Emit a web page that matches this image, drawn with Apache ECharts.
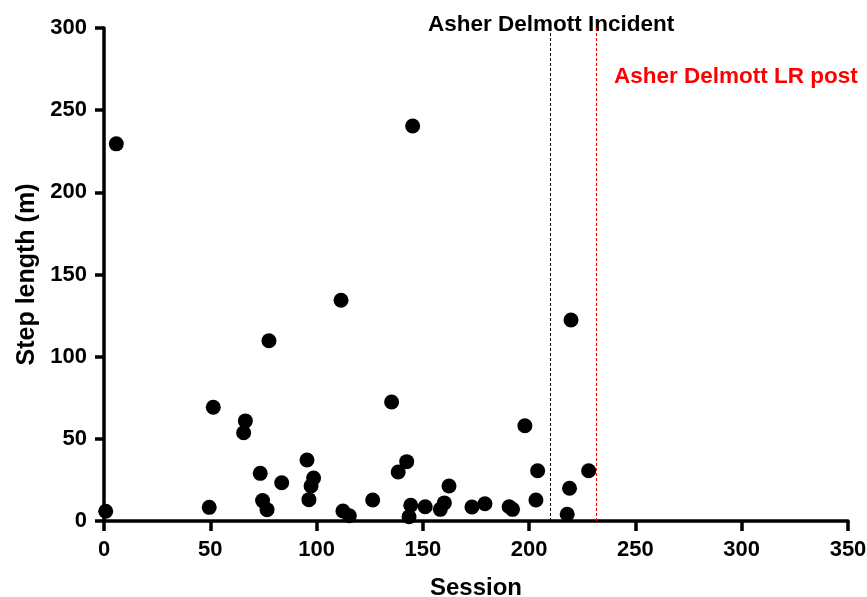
<!DOCTYPE html>
<html>
<head>
<meta charset="utf-8">
<script src="https://cdn.jsdelivr.net/npm/echarts@6/dist/echarts.min.js"></script>
<style>
  html, body { margin: 0; padding: 0; background: #fff; }
  #main { width: 867px; height: 597px; }
</style>
</head>
<body>
<div id="main"></div>
<script>
// session number of each recorded step
var sessions = [0.8, 5.8, 49.5, 51.4, 65.7, 66.5, 73.5, 74.6, 76.7, 77.6,
    83.6, 95.5, 96.4, 97.4, 98.6, 111.5, 112.4, 115.4, 126.4, 135.3,
    138.4, 142.4, 143.5, 144.3, 145.2, 151.1, 158.2, 160.1, 162.3, 173.1,
    179.2, 190.6, 192.2, 198, 203.2, 204, 217.9, 219, 219.7, 228];
// step length (m)
var stepLengths = [5.9, 229.5, 8.3, 69.2, 53.7, 60.9, 29.0, 12.4, 6.9, 109.7,
    23.3, 37.1, 13.0, 21.3, 26.2, 134.3, 6.1, 3.2, 12.8, 72.4,
    29.8, 36.1, 2.6, 9.6, 240.4, 8.7, 7.1, 11, 21.3, 8.5,
    10.5, 8.7, 7.1, 58, 12.8, 30.6, 4.1, 19.9, 122.3, 30.6];
// event markers
var incidentSession = 210;
var lrPostSession = 231.7;

var pts = [];
for (var i = 0; i < sessions.length; i++) {
    pts.push([sessions[i], stepLengths[i]]);
}

var myChart = echarts.init(document.getElementById('main'));
var boldFont = 'Liberation Sans';

var option = {
    animation: false,
    backgroundColor: '#fff',
    grid: { left: 104, right: 19, top: 28, bottom: 76, outerBoundsMode: 'none' },
    xAxis: {
        type: 'value',
        min: 0, max: 350, interval: 50,
        name: 'Session',
        nameLocation: 'middle',
        nameGap: 55,
        nameTextStyle: { color: '#000', fontSize: 24, fontWeight: 'bold', fontFamily: boldFont },
        axisLine: { lineStyle: { color: '#000', width: 3.5 } },
        axisTick: { length: 10, lineStyle: { color: '#000', width: 3.5 } },
        axisLabel: { color: '#000', fontSize: 22, fontWeight: 'bold', fontFamily: boldFont, margin: 18 },
        splitLine: { show: false }
    },
    yAxis: {
        type: 'value',
        min: 0, max: 300, interval: 50,
        name: 'Step length (m)',
        nameLocation: 'middle',
        nameGap: 64,
        nameTextStyle: { color: '#000', fontSize: 25, fontWeight: 'bold', fontFamily: boldFont },
        axisLine: { show: true, lineStyle: { color: '#000', width: 3.5 } },
        axisTick: { show: true, length: 9, lineStyle: { color: '#000', width: 3.5 } },
        axisLabel: { color: '#000', fontSize: 22, fontWeight: 'bold', fontFamily: boldFont, margin: 17 },
        splitLine: { show: false }
    },
    series: [{
        type: 'scatter',
        data: pts,
        symbol: 'circle',
        symbolSize: 15,
        itemStyle: { color: '#000', opacity: 1 },
        markLine: {
            silent: true,
            symbol: 'none',
            label: { show: false },
            data: [
                { xAxis: incidentSession, lineStyle: { color: '#000', type: [3, 2], width: 1 } },
                { xAxis: lrPostSession, lineStyle: { color: '#ff0000', type: [3, 2], width: 1 } }
            ]
        }
    }],
    graphic: [
        {
            type: 'text', left: 428, top: 13,
            style: { text: 'Asher Delmott Incident', fill: '#000', font: 'bold 22.5px ' + boldFont }
        },
        {
            type: 'text', left: 614, top: 65,
            style: { text: 'Asher Delmott LR post', fill: '#ff0000', font: 'bold 22.5px ' + boldFont }
        }
    ]
};
myChart.setOption(option);
</script>
</body>
</html>
